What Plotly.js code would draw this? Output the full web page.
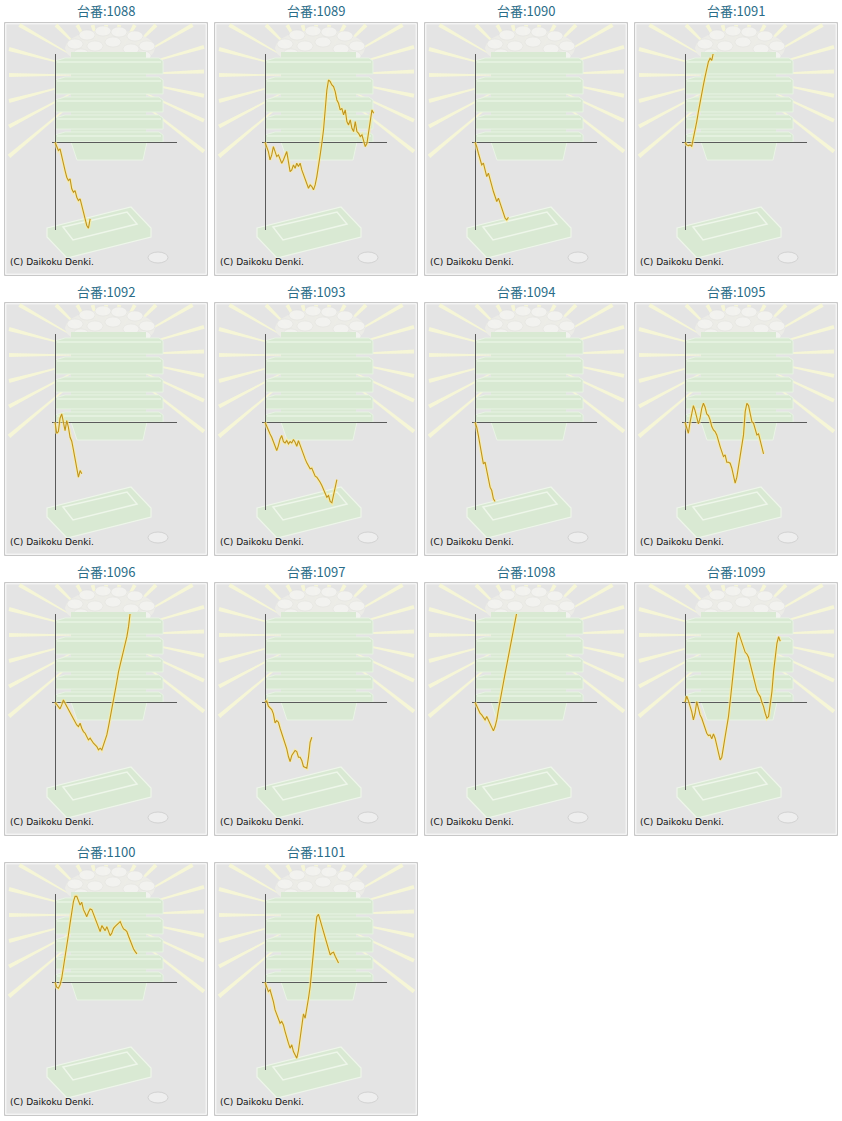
<!DOCTYPE html>
<html><head><meta charset="utf-8">
<script src="https://cdn.plot.ly/plotly-3.0.1.min.js"></script>
<style>html,body{margin:0;padding:0;background:#fff}#chart{width:842px;height:1121px}</style>
</head><body><div id="chart"></div>
<script>
// ---------- DATA ----------
const machineNos = ['1088','1089','1090','1091','1092','1093','1094','1095','1096','1097','1098','1099','1100','1101'];
// game count of each sample (x axis)
const games = [0,100,200,300,400,500,600,700,800,900,1000,1100,1200,1300,1400,1500,1600,1700,1800,1900,
  2000,2100,2200,2300,2400,2500,2600,2700,2800,2900,3000,3100,3200,3300,3400,3500,3600,3700,3800,3900,
  4000,4100,4200,4300,4400,4500,4600,4700,4800,4900,5000,5100,5200,5300,5400,5500,5600,5700,5800,5900,
  6000,6100,6200,6300,6400,6500];
// medal difference (y axis)
const diff1088 = [0,-150,-250,-200,-450,-700,-850,-1050,-1150,-1100,-1400,-1500,-1450,-1650,-1750,-1700,-1950,-2100,-2300,-2500,-2580,-2300];
const diff1089 = [0,-130,-280,-530,-380,-130,-280,-430,-380,-480,-630,-530,-380,-280,-580,-880,-830,-680,-780,-630,
  -730,-630,-830,-980,-1130,-1280,-1380,-1280,-1330,-1430,-1280,-1030,-630,-380,-30,370,970,1570,1870,1820,
  1720,1670,1520,1270,1170,970,1020,820,970,620,520,670,420,320,620,320,270,170,220,70,-130,-30,320,670,970,870];
const diff1090 = [0,-130,-330,-530,-680,-630,-830,-1030,-930,-1130,-1330,-1480,-1630,-1780,-1680,-1830,-1980,-2130,-2280,-2330,-2250];
const diff1091 = [0,-80,-100,-80,-120,100,350,620,920,1220,1470,1720,1970,2220,2420,2520,2460,2700];
const diff1092 = [0,-330,-280,120,250,0,-250,50,-150,-450,-570,-830,-1080,-1380,-1650,-1450,-1550];
const diff1093 = [0,-130,-230,-350,-450,-600,-750,-850,-700,-500,-400,-580,-620,-550,-650,-580,-620,-520,-600,-720,
  -550,-700,-850,-980,-1100,-1220,-1330,-1400,-1380,-1500,-1620,-1650,-1720,-1800,-1900,-2000,-2120,-2250,-2200,-2380,
  -2420,-2150,-1950,-1720];
const diff1094 = [0,-150,-400,-700,-950,-1250,-1200,-1450,-1700,-1950,-2050,-2300,-2380];
const diff1095 = [0,-200,-330,0,320,500,350,120,-50,120,420,570,450,250,200,70,-130,-230,-280,-380,
  -580,-730,-880,-1030,-980,-1200,-1200,-1230,-1380,-1580,-1830,-1650,-1350,-1030,-780,-380,320,570,500,220,
  20,-30,-250,-380,-350,-530,-700,-950];
const diff1096 = [0,-80,-130,-200,-80,70,-30,-130,-230,-330,-430,-480,-580,-680,-730,-630,-780,-880,-930,-1060,
  -1130,-1080,-1180,-1230,-1280,-1330,-1430,-1380,-1430,-1280,-1130,-980,-730,-480,-230,20,320,620,920,1120,
  1320,1570,1720,1970,2270,2700];
const diff1097 = [0,40,-120,-160,-220,-350,-620,-550,-600,-780,-930,-1080,-1230,-1400,-1630,-1780,-1600,-1500,-1450,-1480,
  -1650,-1650,-1750,-1930,-1950,-1980,-1650,-1200,-1050];
const diff1098 = [0,-130,-230,-330,-380,-460,-530,-430,-530,-630,-730,-860,-730,-530,-230,70,320,620,870,1120,
  1370,1670,1920,2170,2420,2700];
const diff1099 = [0,180,50,-100,-280,-530,-330,20,-180,-380,-480,-630,-780,-930,-1000,-980,-1100,-950,-1080,-1330,
  -1530,-1730,-1650,-1280,-1030,-730,-430,20,520,1070,1570,1900,2100,1950,1800,1670,1500,1450,1350,1150,
  950,770,570,350,250,170,0,-130,-330,-480,-430,-80,320,920,1420,1770,1970,1830];
const diff1100 = [0,-150,-180,-80,120,420,750,1080,1420,1770,2120,2420,2580,2580,2450,2320,2400,2180,2080,1970,
  2100,2200,2180,2050,1920,1770,1620,1520,1700,1600,1550,1670,1520,1400,1480,1620,1680,1720,1780,1820,
  1700,1600,1570,1520,1380,1250,1100,1000,920,850];
const diff1101 = [0,-180,-280,-230,-380,-580,-830,-980,-1130,-1230,-1180,-1280,-1480,-1680,-1830,-1980,-1880,-2080,-2180,-2280,
  -2050,-1680,-1230,-950,-1080,-830,-480,-130,320,920,1520,1970,2040,1870,1670,1470,1320,1120,970,820,
  880,900,780,680,580];
const allDiffs = [diff1088,diff1089,diff1090,diff1091,diff1092,diff1093,diff1094,diff1095,diff1096,diff1097,diff1098,diff1099,diff1100,diff1101];
const titlePrefix = '台番:';
const copyrightText = '(C) Daikoku Denki.';
const gameRange = [-200, 7300];
const diffRange = [-2620, 2650];

// ---------- LAYOUT ----------
const W = 842, H = 1121;
const PX = x => x / W, PY = y => 1 - y / H;
const shapes = [], annotations = [], traces = [];
const layout = {width: W, height: H, margin: {l:0, r:0, t:0, b:0}, paper_bgcolor: '#ffffff',
  plot_bgcolor: 'rgba(0,0,0,0)', showlegend: false, hovermode: false, shapes, annotations};

function addPath(pts, fill, color, width, closed) {
  const d = pts.map((p, i) => (i ? 'L' : 'M') + PX(p[0]).toFixed(5) + ',' + PY(p[1]).toFixed(5)).join(' ') + (closed === false ? '' : ' Z');
  shapes.push({type:'path', xref:'paper', yref:'paper', path:d, fillcolor:fill, line:{color:color, width:width}, layer:'below'});
}
function addRect(x0, y0, x1, y1, fill, color, width) {
  shapes.push({type:'rect', xref:'paper', yref:'paper', x0:PX(x0), x1:PX(x1), y0:PY(y1), y1:PY(y0), fillcolor:fill, line:{color:color, width:width}, layer:'below'});
}
function addEllipse(x0, y0, x1, y1, fill, color, width) {
  shapes.push({type:'circle', xref:'paper', yref:'paper', x0:PX(x0), x1:PX(x1), y0:PY(y1), y1:PY(y0), fillcolor:fill, line:{color:color, width:width}, layer:'below'});
}
function addLine(x0, y0, x1, y1, color, width) {
  shapes.push({type:'line', xref:'paper', yref:'paper', x0:PX(x0), x1:PX(x1), y0:PY(y0), y1:PY(y1), line:{color:color, width:width}, layer:'below'});
}

const rayAngles = [-38,-25,-12,2,16,30,45,60,75,90,105,120,135,150,165,180,195,208,220];
function decorate(ox, oy) {
  const L = (x, y) => [ox + x, oy + y];
  // frame
  addRect(ox - 0.5, oy + 0.5, ox + 202.5, oy + 253.5, '#e4e4e4', '#c8c8c8', 1);
  addRect(ox + 0.8, oy + 1.8, ox + 201.2, oy + 252.2, 'rgba(0,0,0,0)', 'rgba(255,255,255,0.85)', 1);
  // rays (tapered)
  const cx = 101, cy = 53;
  rayAngles.forEach(a => {
    const r = a * Math.PI / 180, dx = Math.cos(r), dy = -Math.sin(r);
    let t = 1e9;
    if (dx > 1e-6) t = Math.min(t, (199 - cx) / dx);
    if (dx < -1e-6) t = Math.min(t, (4 - cx) / dx);
    if (dy > 1e-6) t = Math.min(t, (249 - cy) / dy);
    if (dy < -1e-6) t = Math.min(t, (3 - cy) / dy);
    const nx = -dy, ny = dx, t0 = 34;
    addPath([L(cx + dx * t0 + nx * 0.4, cy + dy * t0 + ny * 0.4), L(cx + dx * t + nx * 2, cy + dy * t + ny * 2),
             L(cx + dx * t - nx * 2, cy + dy * t - ny * 2), L(cx + dx * t0 - nx * 0.4, cy + dy * t0 - ny * 0.4)],
      'rgba(247,247,214,0.95)', 'rgba(0,0,0,0)', 0);
  });
  // medal pile
  addEllipse(ox + 60, oy + 8, ox + 150, oy + 44, 'rgba(236,236,231,0.95)', 'rgba(0,0,0,0)', 0);
  [[70,22],[82,13],[98,9],[114,10],[130,14],[142,24],[90,24],[108,20],[126,27],[76,32],[138,34]].forEach(p => {
    addEllipse(ox + p[0] - 8, oy + p[1] - 5, ox + p[0] + 8, oy + p[1] + 5, 'rgba(243,243,240,0.9)', 'rgba(218,218,212,0.45)', 0.7);
  });
  // tray stack
  addRect(ox + 66, oy + 30, ox + 141, oy + 122, '#d9e9d3', 'rgba(0,0,0,0)', 0);
  [[36,52],[55,72],[75,90],[93,107],[110,120]].forEach(l => {
    addPath([L(50, l[0] + 3), L(60, l[0]), L(154, l[0]), L(158, l[0] + 3), L(158, l[1]), L(50, l[1])],
      '#d8e9d2', 'rgba(232,243,228,0.95)', 1);
    addLine(ox + 52, oy + l[0] + 4, ox + 156, oy + l[0] + 4, 'rgba(234,244,230,0.9)', 1.3);
  });
  addPath([L(66, 120), L(142, 120), L(138, 138), L(72, 138)], '#d9e9d3', 'rgba(234,244,230,0.95)', 1);
  // bottom tray
  addPath([L(42, 206), L(126, 185), L(146, 206), L(146, 215), L(62, 236), L(42, 215)], '#d9e9d3', 'rgba(238,246,234,1)', 1.2);
  addPath([L(58, 205), L(122, 190), L(132, 202), L(68, 218)], 'rgba(0,0,0,0)', 'rgba(238,246,234,1)', 1.5);
  // coin
  addEllipse(ox + 143, oy + 230, ox + 163, oy + 241, '#eeeeee', '#d2d2d2', 1);
}

machineNos.forEach((no, i) => {
  const c = i % 4, r = Math.floor(i / 4);
  const ox = 5 + 210 * c, oy = 22 + 280 * r;
  decorate(ox, oy);
  const k = i + 1, sfx = k === 1 ? '' : String(k);
  const axBase = {showgrid:false, showticklabels:false, ticks:'', showline:false, zeroline:true,
    zerolinecolor:'#5a5a5a', zerolinewidth:1, fixedrange:true};
  layout['xaxis' + sfx] = Object.assign({}, axBase, {domain:[PX(ox + 46.7), PX(ox + 172)], range:gameRange, anchor:'y' + sfx});
  layout['yaxis' + sfx] = Object.assign({}, axBase, {domain:[PY(oy + 207.5), PY(oy + 32)], range:diffRange, anchor:'x' + sfx});
  const ys = allDiffs[i], xs = games.slice(0, ys.length);
  traces.push({type:'scatter', mode:'lines', x:xs, y:ys, xaxis:'x' + sfx, yaxis:'y' + sfx,
    line:{color:'rgba(255,238,150,0.6)', width:3.5}, hoverinfo:'skip'});
  traces.push({type:'scatter', mode:'lines', x:xs, y:ys, xaxis:'x' + sfx, yaxis:'y' + sfx,
    line:{color:'#c0951e', width:1.1}, hoverinfo:'skip'});
  annotations.push({xref:'paper', yref:'paper', x:PX(ox + 101), y:PY(oy - 11), xanchor:'center', yanchor:'middle',
    text:titlePrefix + no, showarrow:false, font:{family:'"Noto Sans CJK JP", sans-serif', size:13, color:'#2a6c88'}});
  annotations.push({xref:'paper', yref:'paper', x:PX(ox + 2.5), y:PY(oy + 240), xanchor:'left', yanchor:'middle',
    text:copyrightText, showarrow:false, font:{family:'"DejaVu Sans", sans-serif', size:9, color:'#111111'}});
});

Plotly.newPlot('chart', traces, layout, {staticPlot:true, displayModeBar:false});
</script>
</body></html>
